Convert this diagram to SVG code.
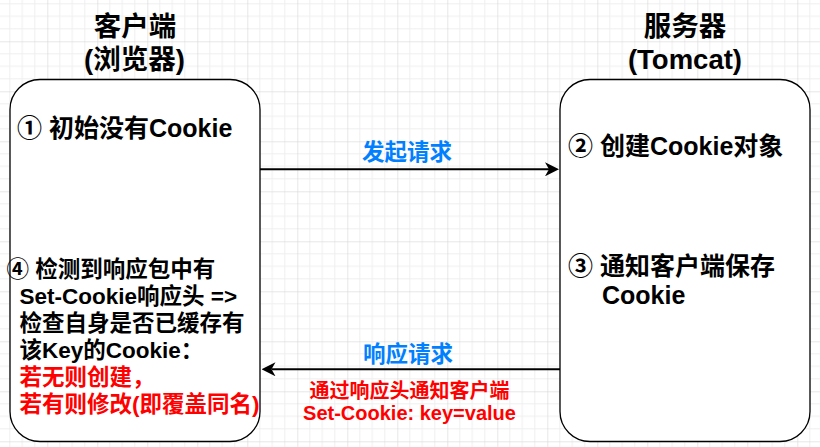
<svg xmlns="http://www.w3.org/2000/svg" width="820" height="447" viewBox="0 0 820 447">
<style>
.t{font-family:"Liberation Sans","Noto Sans CJK SC",sans-serif;font-weight:bold;fill:#000}
.title{font-size:27.5px;text-anchor:middle}
.n25{font-size:25px}
.n22{font-size:22.5px}
.blue{fill:#007FFF;font-size:22.5px;text-anchor:middle}
.red{fill:#FF0000}
.rl{fill:#FF0000;font-size:20px;text-anchor:middle}
.box{fill:#fff;stroke:#000;stroke-width:1.3}
.conn{fill:none;stroke:#000;stroke-width:2}
</style>
<defs>
<pattern id="grid" patternUnits="userSpaceOnUse" x="-2.7" y="-8.7" width="50" height="50">
<path d="M12.5 0V50M25 0V50M37.5 0V50M0 12.5H50M0 25H50M0 37.5H50" stroke="#efefef" stroke-width="1" fill="none"/>
<path d="M0 0V50M0 0H50" stroke="#d0d0d0" stroke-width="1" fill="none"/>
</pattern>
<marker id="arr" markerUnits="userSpaceOnUse" markerWidth="14" markerHeight="14" refX="4" refY="7" orient="auto">
<path d="M0,0 L14,7 L0,14 L4,7 Z" fill="#000"/>
</marker>
</defs>
<rect width="820" height="447" fill="#fff"/>
<rect width="820" height="447" fill="url(#grid)"/>
<g id="client">
<rect class="box" x="10" y="79.5" width="250" height="362" rx="30" ry="30"/>
<text class="t title" x="135" y="35.5">客户端</text>
<text class="t title" x="134.5" y="68.5">(浏览器)</text>
<text class="t n25" x="17" y="136.5">① 初始没有Cookie</text>
<text class="t n22" x="6.5" y="276.5">④ 检测到响应包中有</text>
<text class="t n22" x="19.5" y="303.5">Set-Cookie响应头 =&gt;</text>
<text class="t n22" x="19.5" y="330.5">检查自身是否已缓存有</text>
<text class="t n22" x="19.5" y="357.7">该Key的Cookie：</text>
<text class="t n22 red" x="19.5" y="385">若无则创建，</text>
<text class="t n22 red" x="19.5" y="412">若有则修改(即覆盖同名)</text>
</g>
<g id="server">
<rect class="box" x="560" y="79.5" width="250" height="362" rx="30" ry="30"/>
<text class="t title" x="685" y="35.5">服务器</text>
<text class="t title" x="685" y="68.5">(Tomcat)</text>
<text class="t n25" x="568" y="155">② 创建Cookie对象</text>
<text class="t n25" x="568" y="274.5">③ 通知客户端保存</text>
<text class="t n25" x="602" y="304">Cookie</text>
</g>
<g id="connectors">
<path class="conn" d="M260 169.3H549" marker-end="url(#arr)"/>
<text class="t blue" x="407" y="160">发起请求</text>
<path class="conn" d="M560 369.3H271.5" marker-end="url(#arr)"/>
<text class="t blue" x="408" y="361.5">响应请求</text>
<text class="t rl" x="409.5" y="397.5">通过响应头通知客户端</text>
<text class="t rl" x="409.5" y="420">Set-Cookie: key=value</text>
</g>
</svg>
